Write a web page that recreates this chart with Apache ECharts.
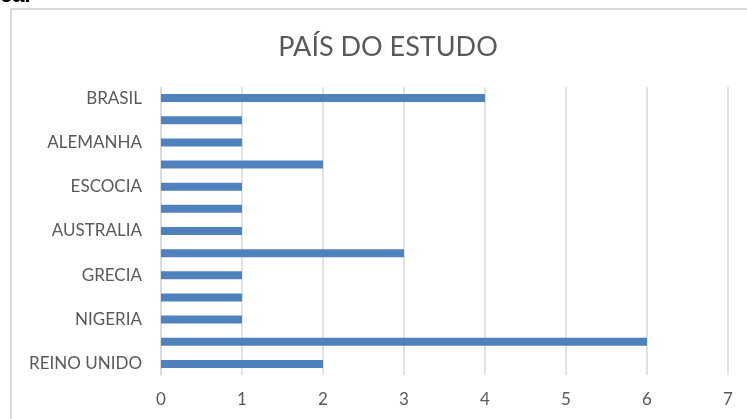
<!DOCTYPE html>
<html>
<head>
<meta charset="utf-8">
<script src="https://cdn.jsdelivr.net/npm/echarts@6/dist/echarts.min.js"></script>
<style>
html,body{margin:0;padding:0;background:#fff;}
#c{width:747px;height:419px;}
</style>
</head>
<body>
<div id="c"></div>
<script>
// Categories from bottom to top (unlabeled rows in the reference are hidden labels)
const categories = ["REINO UNIDO", "(sem rótulo 1)", "NIGERIA", "(sem rótulo 2)", "GRECIA", "(sem rótulo 3)", "AUSTRALIA", "(sem rótulo 4)", "ESCOCIA", "(sem rótulo 5)", "ALEMANHA", "(sem rótulo 6)", "BRASIL"];
const values = [2, 6, 1, 1, 1, 3, 1, 1, 1, 2, 1, 1, 4];
const xTicks = [0, 1, 2, 3, 4, 5, 6, 7];
const titleText = "PAÍS DO ESTUDO";

const chart = echarts.init(document.getElementById('c'), null, {renderer: 'canvas'});
const FONT = 'Lato, "Open Sans", sans-serif';
chart.setOption({
  animation: false,
  backgroundColor: '#ffffff',
  title: {
    text: titleText,
    left: 383, top: 29, textAlign: 'center',
    textStyle: {fontFamily: FONT, fontSize: 27, fontWeight: 'normal', color: '#595959'}
  },
  graphic: [
    {type: 'rect', shape: {x: 11, y: 9, width: 800, height: 500},
     style: {fill: 'none', stroke: '#d9d9d9', lineWidth: 2}, z: -1},
    {type: 'text', left: 0, top: -15,
     style: {text: 'ca.', font: 'bold 22px "Liberation Sans", sans-serif', fill: '#000'}}
  ],
  grid: {left: 161, right: 19, top: 87, bottom: 44},
  xAxis: {
    type: 'value', min: xTicks[0], max: xTicks[xTicks.length - 1], interval: 1,
    axisLine: {show: false}, axisTick: {show: false},
    splitLine: {show: true, lineStyle: {color: '#d9d9d9', width: 1.5}},
    axisLabel: {margin: 16, color: '#595959', fontFamily: FONT, fontSize: 17}
  },
  yAxis: {
    type: 'category', data: categories,
    axisLine: {show: true, lineStyle: {color: '#d9d9d9', width: 1.5}},
    axisTick: {show: false},
    axisLabel: {interval: 1, margin: 19, color: '#595959', fontFamily: FONT, fontSize: 17}
  },
  series: [{
    type: 'bar', data: values, barWidth: 8,
    itemStyle: {color: '#4f81bd'}
  }]
});
</script>
</body>
</html>
